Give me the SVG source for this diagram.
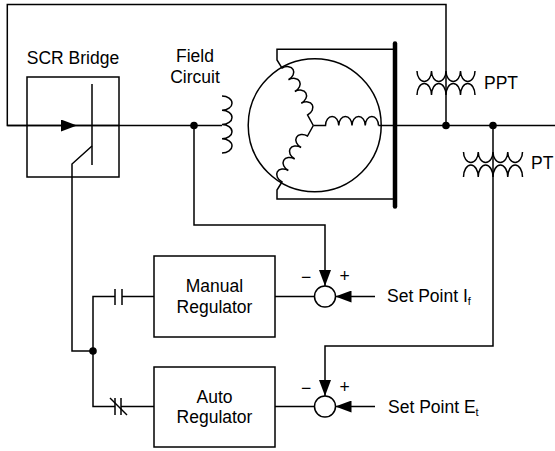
<svg xmlns="http://www.w3.org/2000/svg" width="555" height="451" viewBox="0 0 555 451">
<style>
.ln{fill:none;stroke:#000;stroke-width:1.5;stroke-linejoin:miter}
.box{fill:#fff;stroke:#000;stroke-width:1.5}
.t{font-family:"Liberation Sans",Arial,sans-serif;font-size:17.5px;fill:#000}
.c{text-anchor:middle}
.dot{fill:#000}
</style>
<defs>
<marker id="ah" markerUnits="userSpaceOnUse" markerWidth="16" markerHeight="12" refX="16" refY="6" orient="auto">
<path d="M0,0 L16,6 L0,12 z" fill="#000"/>
</marker>
</defs>
<rect width="555" height="451" fill="#fff"/>

<g id="connectors">
<path class="ln" d="M446,125.5 V4.5 H7.3 V125.5 H77" marker-end="url(#ah)"/>
<path class="ln" d="M77,125.5 H222"/>
<path class="ln" d="M378.5,125.5 H555"/>
<path class="ln" d="M194,125.5 V225 H325 V286" marker-end="url(#ah)"/>
<path class="ln" d="M92,146 L72,164 V351 H93"/>
<path class="ln" d="M115,296.5 H93 V406.5 H115"/>
<path class="ln" d="M275,296.5 H314.5"/>
<path class="ln" d="M275,406.5 H314.5"/>
<path class="ln" d="M375,296.5 H335.5" marker-end="url(#ah)"/>
<path class="ln" d="M375,406.5 H335.5" marker-end="url(#ah)"/>
<path class="ln" d="M493,125.5 V346 H325 V396" marker-end="url(#ah)"/>
<circle class="dot" cx="194" cy="125.5" r="3.8"/>
<circle class="dot" cx="446" cy="125.5" r="3.8"/>
<circle class="dot" cx="493" cy="125.5" r="3.8"/>
<circle class="dot" cx="93" cy="351" r="3.8"/>
</g>

<g id="scr-bridge">
<rect class="box" x="27" y="77" width="92" height="100" fill="none" style="fill:none"/>
<path class="ln" d="M7.3,125.5 H119"/>
<line class="ln" x1="92" y1="84" x2="92" y2="165"/>
<text class="t c" x="73" y="64">SCR Bridge</text>
</g>

<g id="field-circuit">
<path class="ln" d="M222,96 a10,7.125 0 0 1 0,14.25 a10,7.125 0 0 1 0,14.25 a10,7.125 0 0 1 0,14.25 a10,7.125 0 0 1 0,14.25"/>
<text class="t c" x="195" y="62">Field</text>
<text class="t c" x="195" y="83">Circuit</text>
</g>

<g id="generator">
<circle cx="314.7" cy="125.3" r="66.5" fill="none" stroke="#000" stroke-width="1.5"/>
<path class="ln" d="M313.3,125.5 H325.5 a6.625,9 0 0 1 13.25,0 a6.625,9 0 0 1 13.25,0 a6.625,9 0 0 1 13.25,0 a6.625,9 0 0 1 13.25,0"/>
<path class="ln" d="M313.3,125.5 L307.6,115 a6.68,9 -118.6 0 0 -6.39,-11.74 a6.68,9 -118.6 0 0 -6.39,-11.74 a6.68,9 -118.6 0 0 -6.39,-11.74 a6.68,9 -118.6 0 0 -6.39,-11.74 L277,60 V49.3 H395"/>
<path class="ln" d="M313.3,125.5 L307.5,136 a6.57,9 119 0 0 -6.38,11.5 a6.57,9 119 0 0 -6.38,11.5 a6.57,9 119 0 0 -6.38,11.5 a6.57,9 119 0 0 -6.38,11.5 L277,190 V199 H395"/>
<line x1="395" y1="43.5" x2="395" y2="206.5" stroke="#000" stroke-width="4.5" stroke-linecap="round"/>
</g>

<g id="ppt">
<path class="ln" d="M417,71 a7.25,10.5 0 0 0 14.5,0 a7.25,10.5 0 0 0 14.5,0 a7.25,10.5 0 0 0 14.5,0 a7.25,10.5 0 0 0 14.5,0"/>
<path class="ln" d="M417,95 a7.25,11.5 0 0 1 14.5,0 a7.25,11.5 0 0 1 14.5,0 a7.25,11.5 0 0 1 14.5,0 a7.25,11.5 0 0 1 14.5,0"/>
<text class="t" x="484" y="89">PPT</text>
</g>

<g id="pt">
<path class="ln" d="M463.5,152 a7.375,10.5 0 0 0 14.75,0 a7.375,10.5 0 0 0 14.75,0 a7.375,10.5 0 0 0 14.75,0 a7.375,10.5 0 0 0 14.75,0"/>
<path class="ln" d="M463.5,177 a7.375,12 0 0 1 14.75,0 a7.375,12 0 0 1 14.75,0 a7.375,12 0 0 1 14.75,0 a7.375,12 0 0 1 14.75,0"/>
<text class="t" x="531" y="169">PT</text>
</g>

<g id="manual-contact">
<path class="ln" d="M122,296.5 H154"/>
<line class="ln" x1="115" y1="289" x2="115" y2="305"/>
<line class="ln" x1="122" y1="289" x2="122" y2="305"/>
</g>

<g id="auto-contact">
<path class="ln" d="M121,406.5 H154"/>
<line class="ln" x1="115" y1="398" x2="115" y2="415"/>
<line class="ln" x1="121" y1="398" x2="121" y2="415"/>
<line class="ln" x1="110" y1="398" x2="127" y2="415"/>
</g>

<g id="manual-regulator">
<rect class="box" x="154" y="256" width="121" height="81"/>
<text class="t c" x="214.5" y="292">Manual</text>
<text class="t c" x="214.5" y="313">Regulator</text>
</g>

<g id="auto-regulator">
<rect class="box" x="154" y="367" width="121" height="80"/>
<text class="t c" x="214.5" y="403">Auto</text>
<text class="t c" x="214.5" y="423">Regulator</text>
</g>

<g id="sum-manual">
<circle class="box" cx="325" cy="296.5" r="10.5"/>
<text class="t c" x="306" y="283">−</text>
<text class="t c" x="344.5" y="282">+</text>
</g>

<g id="sum-auto">
<circle class="box" cx="325" cy="406.5" r="10.5"/>
<text class="t c" x="306" y="394">−</text>
<text class="t c" x="344.5" y="393">+</text>
</g>

<g id="setpoint-if">
<text class="t" x="387" y="302">Set Point I<tspan font-size="11" dy="3">f</tspan></text>
</g>
<g id="setpoint-et">
<text class="t" x="388" y="413">Set Point E<tspan font-size="11" dy="3">t</tspan></text>
</g>
</svg>
